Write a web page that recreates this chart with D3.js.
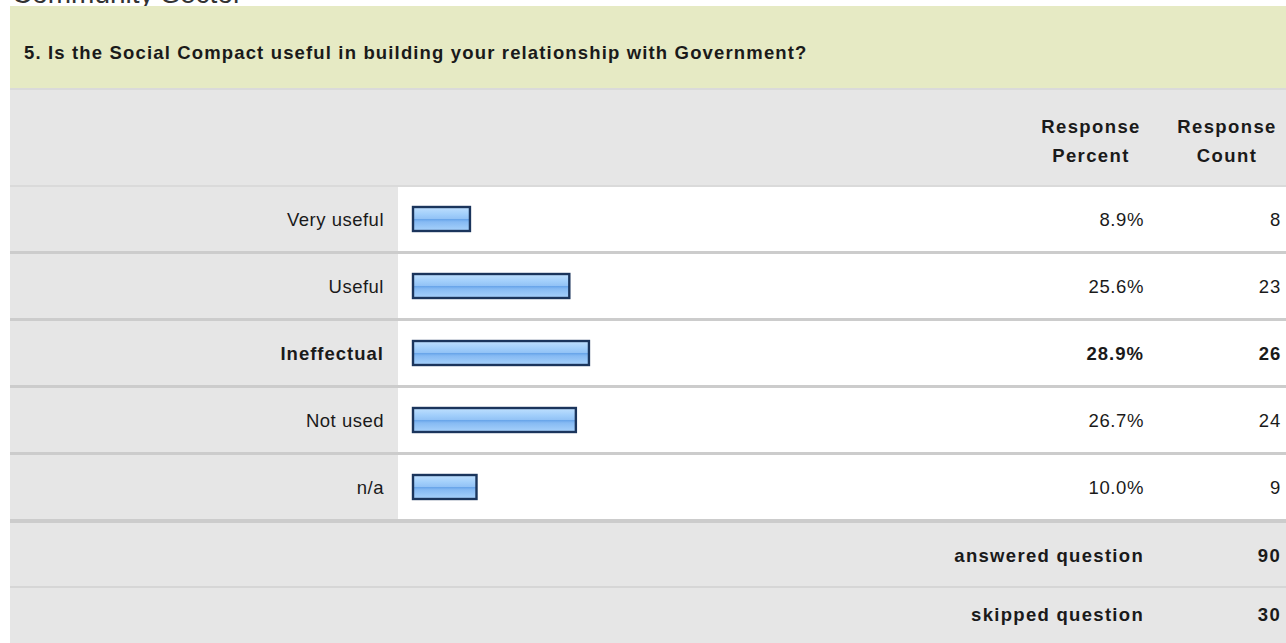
<!DOCTYPE html>
<html><head><meta charset="utf-8">
<script src="https://cdn.jsdelivr.net/npm/d3@7"></script>
<style>
html,body{margin:0;padding:0;background:#fff;overflow:hidden}
svg{display:block}
text{font-family:"Liberation Sans",Arial,sans-serif;fill:#1a1a1a}
</style></head><body>
<svg id="c" width="1286" height="643"></svg>
<script>
const pageTitle = "Community Sector";
const question = "5. Is the Social Compact useful in building your relationship with Government?";
const categories = ["Very useful","Useful","Ineffectual","Not used","n/a"];
const percents = [8.9, 25.6, 28.9, 26.7, 10.0];
const counts = [8, 23, 26, 24, 9];
const highlighted = ["Ineffectual"];
const headerPercent = ["Response","Percent"];
const headerCount = ["Response","Count"];
const footerLabels = ["answered question","skipped question"];
const footerValues = [90, 30];

const svg = d3.select("#c");
const W = 1286, L = 10;
const defs = svg.append("defs");
const g = defs.append("linearGradient").attr("id","bar").attr("x1",0).attr("y1",0).attr("x2",0).attr("y2",1);
[[0,"#c0e0fe"],[0.3,"#a2cffb"],[0.48,"#93c3f6"],[0.52,"#6aa6ea"],[0.62,"#86baf3"],[1,"#a8d2fb"]]
  .forEach(s=>g.append("stop").attr("offset",s[0]).attr("stop-color",s[1]));

// page title (clipped at top, as in the reference)
svg.append("text").attr("x",12).attr("y",3).attr("font-size",28).style("fill","#333").text(pageTitle);

// question band
svg.append("rect").attr("x",L).attr("y",6).attr("width",W-L).attr("height",82).attr("fill","#e6eac4");
svg.append("text").attr("x",24).attr("y",59).attr("font-size",18.5).attr("font-weight","bold")
  .style("letter-spacing","1.15px").text(question);

// header
svg.append("rect").attr("x",L).attr("y",88).attr("width",W-L).attr("height",99).attr("fill","#e6e6e6");
svg.append("rect").attr("x",L).attr("y",88).attr("width",W-L).attr("height",2).attr("fill","#dadada");
svg.append("rect").attr("x",L).attr("y",185).attr("width",W-L).attr("height",2).attr("fill","#dadada");
const hdr = svg.append("g").attr("font-size",18.5).attr("font-weight","bold").style("letter-spacing","1.4px");
headerPercent.forEach((t,i)=>hdr.append("text").attr("x",1091).attr("y",133+i*29).attr("text-anchor","middle").text(t));
headerCount.forEach((t,i)=>hdr.append("text").attr("x",1227).attr("y",133+i*29).attr("text-anchor","middle").text(t));

// rows
const y = d3.scaleBand().domain(categories).range([187, 187+67*categories.length]);
const x = d3.scaleLinear().domain([0,100]).range([6, 601]);
const barX0 = 412;
const rows = svg.append("g").selectAll("g").data(categories).join("g")
  .attr("transform", d=>`translate(0,${y(d)})`);
rows.append("rect").attr("x",L).attr("y",0).attr("width",398-L).attr("height",y.bandwidth()).attr("fill","#e6e6e6");
rows.append("rect").attr("x",398).attr("y",0).attr("width",W-398).attr("height",y.bandwidth()).attr("fill","#ffffff");
rows.append("rect").attr("x",L).attr("y",64).attr("width",W-L).attr("height",4).attr("fill","#cccccc");
const fw = d => highlighted.includes(d) ? "bold" : "normal";
rows.append("text").attr("x",384).attr("y",39).attr("text-anchor","end").attr("font-size",18.5)
  .attr("font-weight",fw).style("letter-spacing",d=>highlighted.includes(d)?"1px":"0.5px").text(d=>d);
rows.append("rect").attr("x",barX0+1).attr("y",20).attr("height",24)
  .attr("width",(d,i)=>x(percents[i])-2).attr("fill","url(#bar)").attr("stroke","#1b355c").attr("stroke-width",2.4);
rows.append("text").attr("x",1144).attr("y",39).attr("text-anchor","end").attr("font-size",18.5)
  .attr("font-weight",fw).style("letter-spacing",d=>highlighted.includes(d)?"1px":"0.6px").text((d,i)=>percents[i].toFixed(1)+"%");
rows.append("text").attr("x",1281).attr("y",39).attr("text-anchor","end").attr("font-size",18.5)
  .attr("font-weight",fw).style("letter-spacing","0.8px").text((d,i)=>counts[i]);

// footer
const fy = [523, 588], fh = [63, 55];
footerLabels.forEach((t,i)=>{
  svg.append("rect").attr("x",L).attr("y",fy[i]).attr("width",W-L).attr("height",fh[i]).attr("fill","#e6e6e6");
  svg.append("text").attr("x",1144).attr("y",fy[i]+39 - (i?6:0)).attr("text-anchor","end").attr("font-size",18.5)
    .attr("font-weight","bold").style("letter-spacing","1.3px").text(t);
  svg.append("text").attr("x",1281).attr("y",fy[i]+39 - (i?6:0)).attr("text-anchor","end").attr("font-size",18.5)
    .attr("font-weight","bold").style("letter-spacing","1.3px").text(footerValues[i]);
});
svg.append("rect").attr("x",L).attr("y",586).attr("width",W-L).attr("height",2).attr("fill","#d6d6d6");
</script></body></html>
